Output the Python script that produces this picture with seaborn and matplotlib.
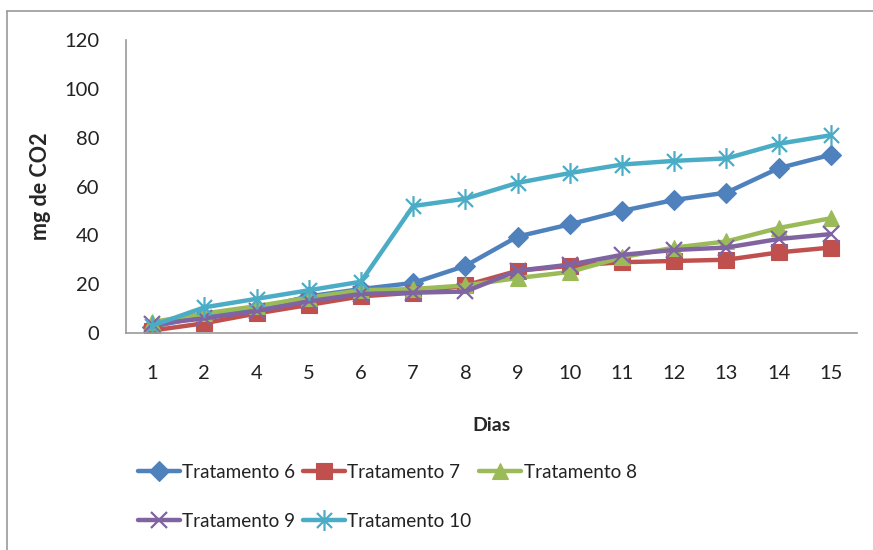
import matplotlib
matplotlib.use("Agg")
import matplotlib.pyplot as plt
from matplotlib.lines import Line2D
from matplotlib.path import Path
import seaborn as sns
import pandas as pd

# Days of measurement (category axis)
dias = ["1", "2", "4", "5", "6", "7", "8", "9", "10", "11", "12", "13", "14", "15"]

# Accumulated CO2 (mg) per treatment
trat6 = [2.5, 7, 10, 15, 18, 20.5, 27.5, 39.5, 44.5, 50, 54.5, 57.5, 67.5, 73]
trat7 = [1, 4, 8, 11.5, 15, 16.5, 19.5, 25.5, 27.5, 29, 29.5, 30, 33, 35]
trat8 = [4.5, 8, 11, 14.5, 17.5, 18, 19.5, 22.5, 25, 31, 35, 37.5, 43, 47]
trat9 = [3.5, 6, 9, 13, 16, 16.5, 17, 25.5, 28, 32, 34, 35, 38.5, 40.5]
trat10 = [3, 10.5, 14, 17.5, 21, 52, 55, 61.5, 65.5, 69, 70.5, 71.5, 77.5, 81]

series_names = ["Tratamento 6", "Tratamento 7", "Tratamento 8", "Tratamento 9", "Tratamento 10"]
series_values = [trat6, trat7, trat8, trat9, trat10]
colors = ["#4F81BD", "#C0504D", "#9BBB59", "#8064A2", "#4BACC6"]

# Asterisk-style marker: vertical bar crossed by an X
star_path = Path(
    [(0, -1), (0, 1), (-0.72, -0.72), (0.72, 0.72), (-0.72, 0.72), (0.72, -0.72)],
    [Path.MOVETO, Path.LINETO, Path.MOVETO, Path.LINETO, Path.MOVETO, Path.LINETO],
)
markers = ["D", "s", "^", "x", star_path]
msizes = [10, 11, 11, 11, 15]

sns.set_theme(style="white")
plt.rcParams["font.family"] = ["Lato", "DejaVu Sans"]

fig = plt.figure(figsize=(8.73, 5.5), dpi=100)
ax = fig.add_axes([126 / 873, 1 - 333 / 550, (857 - 126) / 873, (333 - 40) / 550])

rows = []
for name, vals in zip(series_names, series_values):
    for i, v in enumerate(vals):
        rows.append({"pos": i, "dia": dias[i], "valor": v, "serie": name})
df = pd.DataFrame(rows)

handles = {}
for name, col, mk, ms in zip(series_names, colors, markers, msizes):
    sub = df[df["serie"] == name]
    unfilled = mk in ("x",) or isinstance(mk, Path)
    mew = 1.6 if unfilled else 0.8
    sns.lineplot(
        data=sub, x="pos", y="valor", ax=ax, color=col, linewidth=3.2,
        marker=mk, markersize=ms,
        markeredgecolor=col, markeredgewidth=mew,
        markerfacecolor=col, label=name, legend=False, sort=False,
    )
    handles[name] = Line2D([], [], color=col, linewidth=3.2, marker=mk,
                           markersize=ms, markeredgecolor=col,
                           markerfacecolor=col, markeredgewidth=mew)

ax.set_xlim(-0.5, len(dias) - 0.5)
ax.set_ylim(0, 120)
ax.set_xticks(range(len(dias)))
ax.set_xticklabels(dias)
ax.set_yticks(range(0, 121, 20))
ax.tick_params(axis="both", length=0, labelsize=14.5, colors="#222222")
ax.tick_params(axis="x", pad=23)
ax.tick_params(axis="y", pad=19)

for side in ("top", "right"):
    ax.spines[side].set_visible(False)
for side in ("left", "bottom"):
    ax.spines[side].set_color("#999999")
    ax.spines[side].set_linewidth(1.2)

ax.set_xlabel("Dias", fontsize=14, fontweight="bold", labelpad=25)
ax.set_ylabel("mg de CO2", fontsize=15.5, fontweight="bold", labelpad=10)

order = ["Tratamento 6", "Tratamento 9", "Tratamento 7", "Tratamento 10", "Tratamento 8"]
leg = fig.legend(
    [handles[n] for n in order], order, ncol=3, loc="upper left",
    bbox_to_anchor=(138 / 873, 1 - 464 / 550), frameon=False,
    fontsize=13.6, handlelength=2.2, handletextpad=0.15,
    columnspacing=0.4, labelspacing=1.68, borderpad=0, borderaxespad=0,
)
for txt in leg.get_texts():
    txt.set_color("#222222")

# Outer chart frame (top and left edges)
fig.add_artist(Line2D([7 / 873, 7 / 873], [0, 1 - 11 / 550], color="#999999",
                      linewidth=1.2, transform=fig.transFigure))
fig.add_artist(Line2D([7 / 873, 1], [1 - 11 / 550, 1 - 11 / 550], color="#999999",
                      linewidth=1.2, transform=fig.transFigure))

fig.savefig("out.png", dpi=100, facecolor="white")
